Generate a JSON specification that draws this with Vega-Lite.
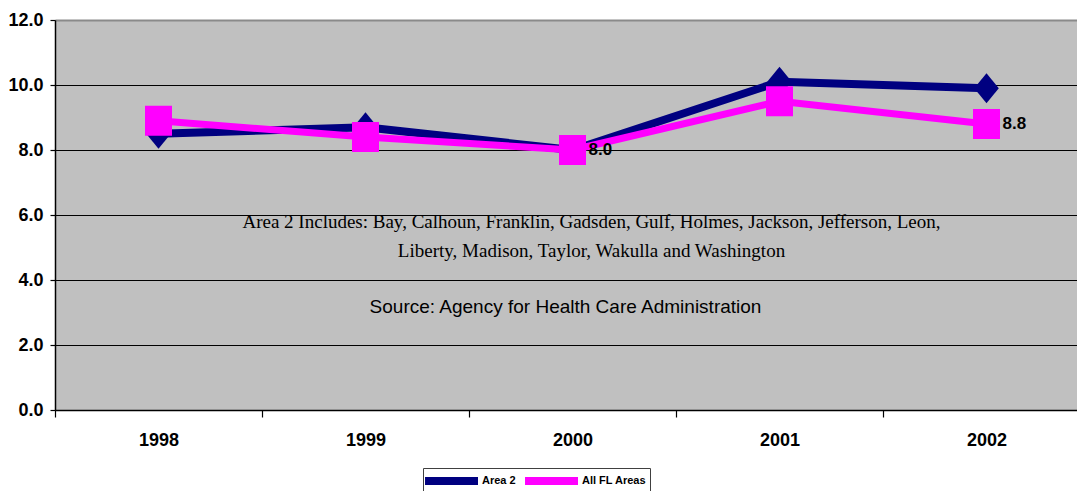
{
  "$schema": "https://vega.github.io/schema/vega-lite/v6.json",
  "autosize": {"type": "none"},
  "padding": {"left": 55, "top": 20, "right": 0, "bottom": 81},
  "width": 1022,
  "height": 390,
  "background": "white",
  "config": {
    "view": {"fill": "#c0c0c0", "stroke": null},
    "font": "Liberation Sans"
  },
  "datasets": {
    "series": [
      {"year": "1998", "series": "Area 2", "value": 8.5},
      {"year": "1999", "series": "Area 2", "value": 8.7},
      {"year": "2000", "series": "Area 2", "value": 8.0},
      {"year": "2001", "series": "Area 2", "value": 10.1},
      {"year": "2002", "series": "Area 2", "value": 9.9},
      {"year": "1998", "series": "All FL Areas", "value": 8.9},
      {"year": "1999", "series": "All FL Areas", "value": 8.4},
      {"year": "2000", "series": "All FL Areas", "value": 8.0},
      {"year": "2001", "series": "All FL Areas", "value": 9.5},
      {"year": "2002", "series": "All FL Areas", "value": 8.8}
    ],
    "notes": [
      {"year": "2000", "value": 5.78, "text": "Area 2 Includes: Bay, Calhoun, Franklin, Gadsden, Gulf, Holmes, Jackson, Jefferson, Leon,", "kind": "serif"},
      {"year": "2000", "value": 4.89, "text": "Liberty, Madison, Taylor, Wakulla and Washington", "kind": "serif"},
      {"year": "2000", "value": 3.17, "text": "Source: Agency for Health Care Administration", "kind": "sans"}
    ]
  },
  "encoding": {
    "x": {
      "field": "year",
      "type": "nominal",
      "scale": {"domain": ["1998", "1999", "2000", "2001", "2002"], "range": [0, 1035], "paddingInner": 0, "paddingOuter": 0},
      "axis": {
        "title": null,
        "labelAngle": 0,
        "tickBand": "extent",
        "domainColor": "black",
        "domainWidth": 1.5,
        "tickColor": "black",
        "tickWidth": 1.2,
        "tickSize": 7,
        "labelFont": "Liberation Sans",
        "labelFontWeight": "bold",
        "labelFontSize": 18,
        "labelColor": "black",
        "labelPadding": 14,
        "labelBaseline": "top",
        "grid": false
      }
    },
    "y": {
      "field": "value",
      "type": "quantitative",
      "scale": {"domain": [0, 12], "nice": false, "zero": true},
      "axis": {
        "title": null,
        "values": [0, 2, 4, 6, 8, 10, 12],
        "format": ".1f",
        "domainColor": "black",
        "domainWidth": 1.5,
        "tickColor": "black",
        "tickWidth": 1.2,
        "tickSize": 5,
        "labelFont": "Liberation Sans",
        "labelFontWeight": "bold",
        "labelFontSize": 18,
        "labelColor": "black",
        "labelPadding": 7,
        "grid": true,
        "gridColor": {"condition": {"test": "datum.value === 12", "value": "#8a8a8a"}, "value": "black"},
        "gridWidth": {"condition": {"test": "datum.value === 12", "value": 2}, "value": 1},
        "gridOpacity": 1
      }
    }
  },
  "layer": [
    {
      "data": {"name": "series"},
      "transform": [{"filter": "datum.series === 'Area 2'"}],
      "mark": {"type": "line", "strokeWidth": 8, "strokeJoin": "round", "strokeCap": "round"},
      "encoding": {
        "color": {
          "field": "series",
          "type": "nominal",
          "scale": {"domain": ["Area 2", "All FL Areas"], "range": ["#000080", "#ff00ff"]},
          "legend": {
            "title": null,
            "orient": "none",
            "legendX": 368,
            "legendY": 448,
            "direction": "horizontal",
            "symbolType": "M-1.83,0H7",
            "symbolSize": 144,
            "symbolStrokeWidth": 8,
            "strokeColor": "#404040",
            "fillColor": "white",
            "padding": 3,
            "columnPadding": -7,
            "labelOffset": 36,
            "labelFont": "Liberation Sans",
            "labelFontWeight": "bold",
            "labelFontSize": 11,
            "labelColor": "black"
          }
        }
      }
    },
    {
      "data": {"name": "series"},
      "transform": [{"filter": "datum.series === 'Area 2'"}],
      "mark": {"type": "point", "filled": true, "opacity": 1, "shape": "M-0.82,0L0,-1L0.82,0L0,1Z", "size": 900},
      "encoding": {
        "color": {"field": "series", "type": "nominal"}
      }
    },
    {
      "data": {"name": "series"},
      "transform": [{"filter": "datum.series === 'All FL Areas'"}],
      "mark": {"type": "line", "strokeWidth": 7, "strokeJoin": "round", "strokeCap": "round"},
      "encoding": {
        "color": {"field": "series", "type": "nominal"}
      }
    },
    {
      "data": {"name": "series"},
      "transform": [{"filter": "datum.series === 'All FL Areas'"}],
      "mark": {"type": "point", "filled": true, "opacity": 1, "shape": "M-0.9,-1H0.9V1H-0.9Z", "size": 900},
      "encoding": {
        "color": {"field": "series", "type": "nominal"}
      }
    },
    {
      "data": {"name": "series"},
      "transform": [{"filter": "datum.series === 'All FL Areas' && (datum.year === '2000' || datum.year === '2002')"}],
      "mark": {"type": "text", "align": "left", "baseline": "middle", "dx": 16, "font": "Liberation Sans", "fontWeight": "bold", "fontSize": 17, "color": "black"},
      "encoding": {
        "text": {"field": "value", "type": "quantitative", "format": ".1f"}
      }
    },
    {
      "data": {"name": "notes"},
      "transform": [{"filter": "datum.kind === 'serif'"}],
      "mark": {"type": "text", "align": "center", "baseline": "middle", "dx": 19, "font": "Liberation Serif", "fontSize": 19, "color": "black"},
      "encoding": {
        "text": {"field": "text", "type": "nominal"}
      }
    },
    {
      "data": {"name": "notes"},
      "transform": [{"filter": "datum.kind === 'sans'"}],
      "mark": {"type": "text", "align": "center", "baseline": "middle", "dx": -7, "font": "Liberation Sans", "fontSize": 19, "color": "black"},
      "encoding": {
        "text": {"field": "text", "type": "nominal"}
      }
    }
  ]
}
